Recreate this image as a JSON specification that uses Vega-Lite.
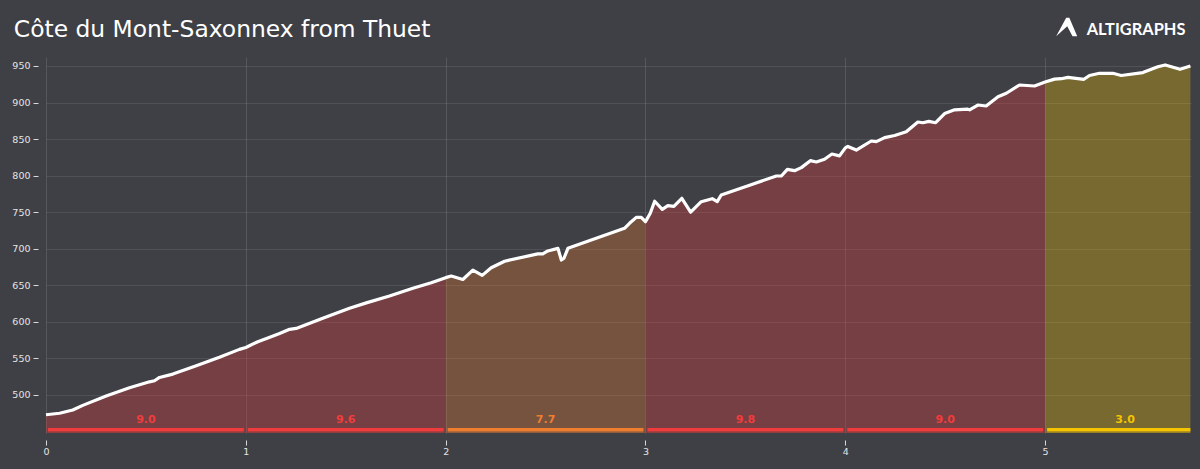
{
  "$schema": "https://vega.github.io/schema/vega-lite/v6.json",
  "width": 1145,
  "height": 376,
  "autosize": {"type": "none"},
  "padding": {"left": 46, "top": 57, "right": 9, "bottom": 36},
  "background": "#3f4046",
  "view": {"fill": "transparent", "stroke": null},
  "title": {"text": "Côte du Mont-Saxonnex from Thuet", "anchor": "start", "dx": 2, "offset": -25, "font": "DejaVu Sans", "fontSize": 23.4, "fontWeight": "normal", "color": "#ffffff"},
  "datasets": {
    "profile": [
      {"km":0,"ele":473,"seg":1,"difficulty":"hard"},{"km":0.068,"ele":475,"seg":1,"difficulty":"hard"},{"km":0.134,"ele":479.4,"seg":1,"difficulty":"hard"},{"km":0.184,"ele":485.8,"seg":1,"difficulty":"hard"},{"km":0.301,"ele":498.6,"seg":1,"difficulty":"hard"},{"km":0.418,"ele":510,"seg":1,"difficulty":"hard"},{"km":0.518,"ele":518,"seg":1,"difficulty":"hard"},{"km":0.543,"ele":519.5,"seg":1,"difficulty":"hard"},{"km":0.568,"ele":524,"seg":1,"difficulty":"hard"},{"km":0.635,"ele":528.6,"seg":1,"difficulty":"hard"},{"km":0.752,"ele":540,"seg":1,"difficulty":"hard"},{"km":0.868,"ele":551.5,"seg":1,"difficulty":"hard"},{"km":0.968,"ele":562.4,"seg":1,"difficulty":"hard"},{"km":1,"ele":565,"seg":1,"difficulty":"hard"},
      {"km":1,"ele":565,"seg":2,"difficulty":"hard"},{"km":1.06,"ele":572.9,"seg":2,"difficulty":"hard"},{"km":1.11,"ele":578,"seg":2,"difficulty":"hard"},{"km":1.169,"ele":584,"seg":2,"difficulty":"hard"},{"km":1.219,"ele":589.8,"seg":2,"difficulty":"hard"},{"km":1.252,"ele":591,"seg":2,"difficulty":"hard"},{"km":1.385,"ele":604.9,"seg":2,"difficulty":"hard"},{"km":1.519,"ele":618.6,"seg":2,"difficulty":"hard"},{"km":1.603,"ele":626,"seg":2,"difficulty":"hard"},{"km":1.719,"ele":635.4,"seg":2,"difficulty":"hard"},{"km":1.836,"ele":646,"seg":2,"difficulty":"hard"},{"km":1.928,"ele":653.6,"seg":2,"difficulty":"hard"},{"km":2,"ele":660.5,"seg":2,"difficulty":"hard"},
      {"km":2,"ele":660.5,"seg":3,"difficulty":"medium"},{"km":2.028,"ele":662.7,"seg":3,"difficulty":"medium"},{"km":2.086,"ele":658,"seg":3,"difficulty":"medium"},{"km":2.136,"ele":670.9,"seg":3,"difficulty":"medium"},{"km":2.183,"ele":663.6,"seg":3,"difficulty":"medium"},{"km":2.228,"ele":674,"seg":3,"difficulty":"medium"},{"km":2.295,"ele":683,"seg":3,"difficulty":"medium"},{"km":2.461,"ele":693,"seg":3,"difficulty":"medium"},{"km":2.486,"ele":693,"seg":3,"difficulty":"medium"},{"km":2.511,"ele":697,"seg":3,"difficulty":"medium"},{"km":2.562,"ele":700.6,"seg":3,"difficulty":"medium"},{"km":2.579,"ele":684.6,"seg":3,"difficulty":"medium"},{"km":2.592,"ele":687,"seg":3,"difficulty":"medium"},{"km":2.612,"ele":700.6,"seg":3,"difficulty":"medium"},{"km":2.895,"ele":728,"seg":3,"difficulty":"medium"},{"km":2.92,"ele":734.8,"seg":3,"difficulty":"medium"},{"km":2.954,"ele":743,"seg":3,"difficulty":"medium"},{"km":2.979,"ele":743,"seg":3,"difficulty":"medium"},{"km":3,"ele":737,"seg":3,"difficulty":"medium"},
      {"km":3,"ele":737,"seg":4,"difficulty":"hard"},{"km":3.024,"ele":748.5,"seg":4,"difficulty":"hard"},{"km":3.046,"ele":765,"seg":4,"difficulty":"hard"},{"km":3.084,"ele":754,"seg":4,"difficulty":"hard"},{"km":3.112,"ele":759,"seg":4,"difficulty":"hard"},{"km":3.142,"ele":758,"seg":4,"difficulty":"hard"},{"km":3.182,"ele":769,"seg":4,"difficulty":"hard"},{"km":3.226,"ele":750,"seg":4,"difficulty":"hard"},{"km":3.279,"ele":764.4,"seg":4,"difficulty":"hard"},{"km":3.334,"ele":768.5,"seg":4,"difficulty":"hard"},{"km":3.359,"ele":764.4,"seg":4,"difficulty":"hard"},{"km":3.379,"ele":773.5,"seg":4,"difficulty":"hard"},{"km":3.521,"ele":787,"seg":4,"difficulty":"hard"},{"km":3.655,"ele":799.5,"seg":4,"difficulty":"hard"},{"km":3.68,"ele":799.5,"seg":4,"difficulty":"hard"},{"km":3.71,"ele":808.6,"seg":4,"difficulty":"hard"},{"km":3.746,"ele":806.8,"seg":4,"difficulty":"hard"},{"km":3.78,"ele":811,"seg":4,"difficulty":"hard"},{"km":3.825,"ele":820.5,"seg":4,"difficulty":"hard"},{"km":3.855,"ele":818.7,"seg":4,"difficulty":"hard"},{"km":3.896,"ele":822.4,"seg":4,"difficulty":"hard"},{"km":3.933,"ele":829.6,"seg":4,"difficulty":"hard"},{"km":3.971,"ele":827,"seg":4,"difficulty":"hard"},{"km":4,"ele":838,"seg":4,"difficulty":"hard"},
      {"km":4,"ele":838,"seg":5,"difficulty":"hard"},{"km":4.013,"ele":840,"seg":5,"difficulty":"hard"},{"km":4.055,"ele":835,"seg":5,"difficulty":"hard"},{"km":4.13,"ele":847.4,"seg":5,"difficulty":"hard"},{"km":4.155,"ele":846.5,"seg":5,"difficulty":"hard"},{"km":4.197,"ele":852,"seg":5,"difficulty":"hard"},{"km":4.247,"ele":855,"seg":5,"difficulty":"hard"},{"km":4.305,"ele":860,"seg":5,"difficulty":"hard"},{"km":4.363,"ele":873.4,"seg":5,"difficulty":"hard"},{"km":4.388,"ele":872.4,"seg":5,"difficulty":"hard"},{"km":4.418,"ele":874.3,"seg":5,"difficulty":"hard"},{"km":4.452,"ele":872.4,"seg":5,"difficulty":"hard"},{"km":4.497,"ele":885,"seg":5,"difficulty":"hard"},{"km":4.547,"ele":890,"seg":5,"difficulty":"hard"},{"km":4.613,"ele":891,"seg":5,"difficulty":"hard"},{"km":4.622,"ele":890,"seg":5,"difficulty":"hard"},{"km":4.663,"ele":896.6,"seg":5,"difficulty":"hard"},{"km":4.705,"ele":895.3,"seg":5,"difficulty":"hard"},{"km":4.764,"ele":908,"seg":5,"difficulty":"hard"},{"km":4.806,"ele":912.7,"seg":5,"difficulty":"hard"},{"km":4.872,"ele":924,"seg":5,"difficulty":"hard"},{"km":4.947,"ele":922.6,"seg":5,"difficulty":"hard"},{"km":5,"ele":928,"seg":5,"difficulty":"hard"},
      {"km":5,"ele":928,"seg":6,"difficulty":"easy"},{"km":5.047,"ele":932,"seg":6,"difficulty":"easy"},{"km":5.081,"ele":932.6,"seg":6,"difficulty":"easy"},{"km":5.114,"ele":934.5,"seg":6,"difficulty":"easy"},{"km":5.194,"ele":931.8,"seg":6,"difficulty":"easy"},{"km":5.222,"ele":937,"seg":6,"difficulty":"easy"},{"km":5.272,"ele":940,"seg":6,"difficulty":"easy"},{"km":5.339,"ele":940,"seg":6,"difficulty":"easy"},{"km":5.381,"ele":937,"seg":6,"difficulty":"easy"},{"km":5.489,"ele":941,"seg":6,"difficulty":"easy"},{"km":5.564,"ele":949,"seg":6,"difficulty":"easy"},{"km":5.601,"ele":951.4,"seg":6,"difficulty":"easy"},{"km":5.675,"ele":945.5,"seg":6,"difficulty":"easy"},{"km":5.727,"ele":950,"seg":6,"difficulty":"easy"}
    ],
    "segments": [
      {"start":0.01,"end":0.99,"mid":0.5,"grade":"9.0","difficulty":"hard","base":448.7,"edge":450.7,"top":454.8,"labelAt":465.5},
      {"start":1.01,"end":1.99,"mid":1.5,"grade":"9.6","difficulty":"hard","base":448.7,"edge":450.7,"top":454.8,"labelAt":465.5},
      {"start":2.01,"end":2.99,"mid":2.5,"grade":"7.7","difficulty":"medium","base":448.7,"edge":450.7,"top":454.8,"labelAt":465.5},
      {"start":3.01,"end":3.99,"mid":3.5,"grade":"9.8","difficulty":"hard","base":448.7,"edge":450.7,"top":454.8,"labelAt":465.5},
      {"start":4.01,"end":4.99,"mid":4.5,"grade":"9.0","difficulty":"hard","base":448.7,"edge":450.7,"top":454.8,"labelAt":465.5},
      {"start":5.01,"end":5.727,"mid":5.4,"grade":"3.0","difficulty":"easy","base":448.7,"edge":450.7,"top":454.8,"labelAt":465.5}
    ],
    "brand": [{"km":5.208,"ele":999,"name":"ALTIGRAPHS","logoKm":5.108,"logoEle":1003}]
  },
  "data": {"name": "profile"},
  "encoding": {
    "x": {"field": "km", "type": "quantitative", "scale": {"domain": [0, 5.73], "nice": false, "zero": false},
      "axis": {"values": [0,1,2,3,4,5], "title": null, "format": "d", "domain": false, "offset": 7, "tickColor": "#d8d8d8", "tickSize": 5, "labelColor": "#e4e4e4", "labelFont": "DejaVu Sans", "labelFontSize": 9.5, "labelPadding": 1, "grid": true, "gridColor": "#ffffff", "gridOpacity": 0.12, "labelFlush": false}},
    "y": {"field": "ele", "type": "quantitative", "scale": {"domain": [448, 962.3], "nice": false, "zero": false},
      "axis": {"values": [500,550,600,650,700,750,800,850,900,950], "title": null, "domain": false, "offset": 8, "tickColor": "#d8d8d8", "tickSize": 5, "labelColor": "#e4e4e4", "labelFont": "DejaVu Sans", "labelFontSize": 9.5, "labelPadding": 3, "grid": true, "gridColor": "#ffffff", "gridOpacity": 0.09}},
    "color": {"field": "difficulty", "type": "nominal", "legend": null,
      "scale": {"domain": ["hard","medium","easy"], "range": ["#f03c3c","#ef7d2f","#f5c400"]}}
  },
  "layer": [
    {"mark": {"type": "area", "opacity": 0.31, "clip": false},
      "encoding": {"detail": {"field": "seg"}, "y": {"field": "ele", "type": "quantitative", "stack": null}}},
    {"mark": {"type": "line", "color": "#ffffff", "strokeWidth": 3.2, "strokeJoin": "round"},
      "encoding": {"color": {"value": "#ffffff"}}},
    {"data": {"name": "segments"}, "mark": {"type": "rect", "opacity": 0.5},
      "encoding": {"x": {"field": "start", "type": "quantitative"}, "x2": {"field": "end"}, "y": {"field": "base", "type": "quantitative"}, "y2": {"field": "edge"}}},
    {"data": {"name": "segments"}, "mark": {"type": "rect"},
      "encoding": {"x": {"field": "start", "type": "quantitative"}, "x2": {"field": "end"}, "y": {"field": "edge", "type": "quantitative"}, "y2": {"field": "top"}}},
    {"data": {"name": "segments"}, "mark": {"type": "text", "font": "DejaVu Sans", "fontSize": 11, "fontWeight": "bold", "baseline": "middle"},
      "encoding": {"x": {"field": "mid", "type": "quantitative"}, "y": {"field": "labelAt", "type": "quantitative"}, "text": {"field": "grade"}}},
    {"data": {"name": "brand"}, "mark": {"type": "text", "font": "Lato", "fontSize": 16.4, "fontWeight": "bold", "align": "left", "baseline": "middle", "clip": false},
      "encoding": {"x": {"field": "km", "type": "quantitative"}, "y": {"field": "ele", "type": "quantitative"}, "text": {"field": "name"}, "color": {"value": "#ffffff"}}},
    {"data": {"name": "brand"}, "mark": {"type": "point", "filled": true, "opacity": 1, "size": 441, "shape": "M-0.05,-0.9 L0.25,-0.9 L1,0.85 L0.55,0.85 L0.05,-0.1 L-1,0.85 Z", "clip": false},
      "encoding": {"x": {"field": "logoKm", "type": "quantitative"}, "y": {"field": "logoEle", "type": "quantitative"}, "color": {"value": "#ffffff"}}}
  ]
}
